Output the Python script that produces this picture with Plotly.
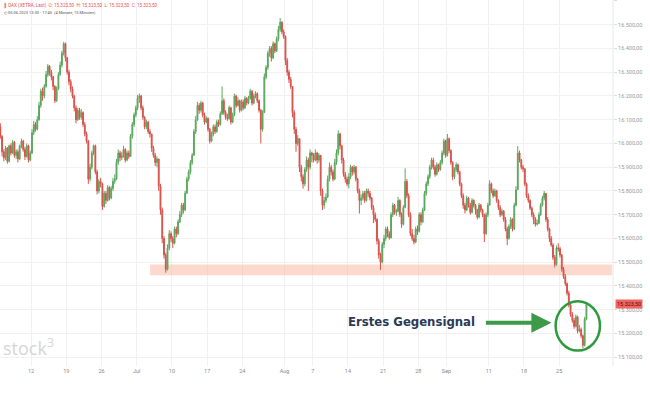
import plotly.graph_objects as go
import pandas as pd

# ---------------- data (DAX, Xetra, intraday, 05.06.2023 13:30 - 28.09.2023 17:45) ----------------
first_open = 16070

close_jun = [16030, 15965,
             15940, 15980, 15925, 15990, 15960, 16005, 15950, 15965, 15935, 15990, 16010, 15975,
             15945, 15990, 15930, 15960, 16045, 16080, 16060, 16100, 16160, 16220, 16200, 16240,
             16290, 16325, 16300, 16280, 16240, 16180, 16230, 16290, 16330, 16380, 16420, 16360,
             16300, 16260, 16230, 16200, 16150, 16100, 16140, 16110, 16130, 16080, 16040, 16010,
             15850, 15900, 15960, 15990, 15880, 15800, 15840, 15830, 15735, 15790, 15760, 15815,
             15770, 15810, 15840, 15850, 15920, 15960, 15940, 15950, 15975, 15930, 15960, 15945,
             16030, 16080, 16120, 16150]
high_jun = [16085, 16035,
            15975, 15990, 15985, 15995, 16000, 16015, 16010, 15975, 15975, 15995, 16020, 16015,
            15985, 16000, 15995, 15970, 16060, 16095, 16090, 16115, 16175, 16230, 16235, 16250,
            16305, 16335, 16330, 16310, 16285, 16245, 16240, 16300, 16345, 16390, 16428, 16425,
            16365, 16310, 16270, 16240, 16205, 16160, 16150, 16150, 16145, 16135, 16090, 16050,
            16015, 15915, 15970, 15995, 15995, 15890, 15850, 15855, 15835, 15800, 15800, 15825,
            15820, 15820, 15855, 15870, 15935, 15975, 15970, 15965, 15990, 15980, 15970, 15970,
            16040, 16090, 16130, 16160]
low_jun = [16020, 15945,
           15925, 15930, 15915, 15920, 15950, 15955, 15940, 15935, 15920, 15930, 15980, 15965,
           15930, 15940, 15920, 15925, 15955, 16035, 16050, 16055, 16095, 16150, 16180, 16190,
           16235, 16280, 16285, 16265, 16225, 16170, 16175, 16225, 16285, 16320, 16370, 16345,
           16290, 16245, 16215, 16190, 16135, 16085, 16095, 16100, 16100, 16070, 16030, 16000,
           15830, 15840, 15890, 15950, 15870, 15785, 15790, 15815, 15720, 15730, 15745, 15755,
           15760, 15765, 15800, 15830, 15845, 15910, 15925, 15930, 15940, 15920, 15925, 15935,
           15945, 16020, 16070, 16110]

close_jul = [16190, 16200, 16150, 16110, 16070, 16090, 16050, 16040, 15980, 15950, 15920, 15935,
             15820, 15720, 15600, 15530, 15470, 15560, 15620, 15600, 15580, 15640, 15620, 15670,
             15700, 15740, 15720, 15790, 15850, 15880, 15920, 15950, 16050, 16100, 16160, 16140,
             16170, 16120, 16090, 16105, 16060, 16010, 16040, 16070, 16050, 16090, 16080, 16125,
             16180, 16130, 16110, 16105, 16150, 16090, 16120, 16200, 16160, 16180, 16140, 16175,
             16150, 16190, 16170, 16190, 16220, 16170, 16200, 16210, 16180, 16140, 16060, 16130,
             16280, 16320, 16380, 16400, 16360, 16420, 16390, 16440, 16480, 16510, 16470, 16450]
high_jul = [16205, 16210, 16205, 16160, 16115, 16100, 16095, 16060, 16040, 15990, 15960, 15945,
            15935, 15830, 15730, 15610, 15540, 15575, 15635, 15630, 15610, 15650, 15650, 15680,
            15715, 15750, 15750, 15800, 15860, 15890, 15930, 15960, 16060, 16115, 16175, 16170,
            16180, 16175, 16130, 16115, 16110, 16065, 16050, 16080, 16080, 16100, 16100, 16135,
            16240, 16190, 16140, 16125, 16160, 16155, 16130, 16210, 16205, 16195, 16185, 16185,
            16185, 16200, 16195, 16200, 16230, 16225, 16210, 16220, 16215, 16185, 16145, 16140,
            16295, 16330, 16390, 16410, 16410, 16430, 16425, 16450, 16495, 16528, 16515, 16480]
low_jul = [16140, 16170, 16140, 16100, 16060, 16060, 16040, 16025, 15965, 15940, 15905, 15900,
           15800, 15700, 15580, 15515, 15456, 15465, 15550, 15585, 15560, 15575, 15605, 15615,
           15665, 15690, 15705, 15715, 15790, 15840, 15870, 15910, 15950, 16040, 16095, 16125,
           16130, 16110, 16080, 16085, 16050, 16000, 16005, 16030, 16040, 16045, 16070, 16075,
           16120, 16120, 16100, 16095, 16100, 16080, 16085, 16115, 16150, 16155, 16130, 16135,
           16140, 16145, 16160, 16165, 16185, 16160, 16165, 16190, 16170, 16130, 16000, 16050,
           16130, 16270, 16310, 16365, 16345, 16355, 16380, 16385, 16430, 16470, 16460, 16440]

close_aug = [16350, 16300, 16270, 16240, 16130, 16060, 16000, 16020, 15900, 15860, 15830, 15890,
             15930, 15900, 15960, 15950, 15930, 15960, 15930, 15950, 15800, 15740, 15760, 15775,
             15850, 15900, 15880, 15850, 15920, 15960, 16040, 15990, 15930, 15870, 15850, 15830,
             15860, 15900, 15880, 15900, 15850, 15800, 15760, 15770, 15790, 15760, 15800, 15790,
             15770, 15730, 15700, 15680, 15590, 15530, 15500, 15575, 15600, 15640, 15620, 15603,
             15700, 15740, 15710, 15715, 15760, 15700, 15660, 15730, 15840, 15780, 15700, 15620,
             15600, 15585, 15640, 15630, 15700, 15670, 15720, 15790, 15830, 15860, 15900, 15930,
             15900, 15870, 15910, 15890, 15920, 15960, 16010, 15950]
high_aug = [16455, 16360, 16310, 16280, 16240, 16140, 16070, 16035, 16020, 15910, 15870, 15900,
            15945, 15940, 15975, 15965, 15960, 15975, 15965, 15960, 15950, 15810, 15775, 15790,
            15865, 15920, 15910, 15890, 15935, 15975, 16055, 16045, 15995, 15940, 15880, 15860,
            15875, 15910, 15905, 15910, 15905, 15855, 15810, 15785, 15800, 15800, 15810, 15810,
            15800, 15775, 15740, 15710, 15685, 15600, 15540, 15585, 15615, 15650, 15650, 15630,
            15710, 15750, 15745, 15725, 15775, 15765, 15710, 15740, 15895, 15850, 15790, 15710,
            15640, 15615, 15650, 15655, 15710, 15710, 15730, 15800, 15840, 15870, 15910, 15940,
            15940, 15910, 15920, 15915, 15930, 15970, 16020, 16015]
low_aug = [16330, 16285, 16255, 16230, 16110, 16040, 15965, 15990, 15880, 15840, 15810, 15820,
           15880, 15800, 15890, 15920, 15920, 15925, 15915, 15920, 15780, 15720, 15725, 15750,
           15770, 15840, 15865, 15840, 15845, 15910, 15950, 15975, 15915, 15860, 15835, 15820,
           15810, 15850, 15865, 15870, 15840, 15790, 15705, 15740, 15760, 15750, 15755, 15775,
           15760, 15720, 15665, 15670, 15575, 15515, 15468, 15495, 15560, 15590, 15605, 15595,
           15600, 15690, 15700, 15695, 15710, 15690, 15645, 15655, 15730, 15770, 15690, 15610,
           15590, 15575, 15580, 15615, 15625, 15655, 15665, 15715, 15780, 15820, 15850, 15890,
           15890, 15860, 15865, 15880, 15885, 15910, 15950, 15940]

close_sep = [16020, 15970, 15920, 15860, 15890, 15910, 15880, 15830, 15780, 15740, 15720, 15770,
             15740, 15710, 15760, 15740, 15720, 15690, 15740, 15720, 15700, 15620, 15700, 15740,
             15830, 15800, 15780, 15800, 15760, 15730, 15700, 15715, 15680, 15640, 15600, 15650,
             15680, 15640, 15740, 15805, 15960, 15930, 15900, 15893, 15830, 15780, 15760, 15727,
             15700, 15680, 15660, 15664, 15700, 15740, 15770, 15790, 15680, 15640, 15600, 15572,
             15520, 15490, 15560, 15557, 15530, 15470, 15440, 15410, 15370, 15320, 15280, 15255,
             15230, 15270, 15210, 15217, 15190, 15150, 15260, 15323.5]
high_sep = [16040, 16025, 15975, 15925, 15900, 15920, 15915, 15885, 15835, 15790, 15750, 15780,
            15775, 15750, 15770, 15765, 15745, 15725, 15750, 15745, 15725, 15705, 15710, 15750,
            15845, 15835, 15810, 15810, 15805, 15765, 15740, 15725, 15720, 15690, 15650, 15660,
            15690, 15685, 15750, 15820, 15989, 15970, 15935, 15910, 15895, 15835, 15790, 15765,
            15735, 15710, 15690, 15680, 15710, 15750, 15780, 15800, 15790, 15690, 15645, 15610,
            15580, 15530, 15570, 15580, 15565, 15535, 15480, 15450, 15415, 15380, 15330, 15290,
            15265, 15280, 15275, 15235, 15225, 15195, 15270, 15330]
low_sep = [15945, 15960, 15910, 15845, 15850, 15880, 15870, 15820, 15770, 15725, 15705, 15715,
           15730, 15700, 15705, 15730, 15700, 15680, 15685, 15710, 15690, 15585, 15615, 15690,
           15740, 15790, 15770, 15775, 15750, 15720, 15690, 15695, 15670, 15630, 15572, 15595,
           15640, 15630, 15635, 15735, 15805, 15920, 15890, 15880, 15820, 15770, 15750, 15720,
           15690, 15660, 15650, 15655, 15660, 15695, 15735, 15760, 15670, 15630, 15585, 15565,
           15510, 15478, 15485, 15545, 15520, 15460, 15430, 15400, 15360, 15310, 15270, 15245,
           15220, 15225, 15200, 15205, 15180, 15138, 15145, 15255]

support_zone = [15445, 15490]
last_price = 15323.5

price_ticks = [15100, 15200, 15300, 15400, 15500, 15600, 15700, 15800, 15900,
               16000, 16100, 16200, 16300, 16400, 16500, 16600]
price_tick_labels = ["15.100,00", "15.200,00", "15.300,00", "15.400,00", "15.500,00",
                     "15.600,00", "15.700,00", "15.800,00", "15.900,00", "16.000,00",
                     "16.100,00", "16.200,00", "16.300,00", "16.400,00", "16.500,00",
                     "16.600,00"]
date_ticks = ["2023-06-12", "2023-06-19", "2023-06-26", "2023-07-03", "2023-07-10",
              "2023-07-17", "2023-07-24", "2023-08-01", "2023-08-07", "2023-08-14",
              "2023-08-21", "2023-08-28", "2023-09-01", "2023-09-11", "2023-09-18",
              "2023-09-25"]
date_tick_labels = ["12", "19", "26", "Jul", "10", "17", "24", "Aug", "7", "14", "21",
                    "28", "Sep", "11", "18", "25"]

# ---------------- build ----------------
closes = close_jun + close_jul + close_aug + close_sep
highs = high_jun + high_jul + high_aug + high_sep
lows = low_jun + low_jul + low_aug + low_sep
opens = [first_open] + closes[:-1]

days = pd.bdate_range("2023-06-05", "2023-09-28")
x = []
for i, d in enumerate(days):
    offs = [0.625, 0.875] if i == 0 else [0.125, 0.375, 0.625, 0.875]
    for s in offs:
        x.append(i + s)
n = min(len(x), len(closes), len(highs), len(lows))
x, opens, highs, lows, closes = x[:n], opens[:n], highs[:n], lows[:n], closes[:n]

tick_pos = [days.get_loc(pd.Timestamp(t)) for t in date_ticks]

UP = "#5aa75e"
DN = "#d9514b"

fig = go.Figure()
fig.add_trace(go.Candlestick(
    x=x, open=opens, high=highs, low=lows, close=closes,
    increasing=dict(line=dict(color=UP, width=1), fillcolor=UP),
    decreasing=dict(line=dict(color=DN, width=1), fillcolor=DN),
    whiskerwidth=0, hoverinfo="skip", showlegend=False,
))

X0, X1 = 0.58, 87.65
Y0, Y1 = 15063, 16604

shapes = [
    dict(type="rect", xref="x", yref="y", x0=21.9, x1=87.5,
         y0=support_zone[0], y1=support_zone[1],
         fillcolor="rgba(248,180,155,0.5)", line=dict(width=0), layer="between"),
    dict(type="rect", xref="paper", yref="paper", x0=0, x1=68 / 613,
         y0=1 - 348 / 366, y1=1 - 318 / 366,
         fillcolor="white", line=dict(width=0), layer="between"),
    dict(type="circle", xref="x", yref="y", x0=79.5, x1=85.8, y0=15128, y1=15336,
         line=dict(color="#2f9a3f", width=2.5), layer="above"),
    dict(type="line", xref="paper", yref="paper", x0=1, x1=1, y0=0, y1=1,
         line=dict(color="#e8e8e8", width=1)),
]

annotations = [
    dict(text="Erstes Gegensignal", xref="x", yref="y", x=68.3, y=15252,
         xanchor="right", yanchor="middle", showarrow=False,
         font=dict(family="Liberation Sans Narrow, DejaVu Sans Condensed, sans-serif",
                   size=13, color="#2b3a55", weight="bold")),
    dict(text="", xref="x", yref="y", x=78.9, y=15245, axref="pixel", ayref="pixel",
         ax=-67, ay=0, showarrow=True, arrowhead=2, arrowsize=1, arrowwidth=4,
         arrowcolor="#3c9a48", standoff=0),
    dict(text="15.323,50", xref="paper", yref="y", x=1.003, y=last_price,
         xanchor="left", yanchor="middle", showarrow=False, bgcolor="#f06560",
         borderpad=1, font=dict(family="Roboto", size=5.5, color="#5a0c0c")),
    dict(text="<b>∥</b> DAX (XETRA, Last)  O: 15.323,50  H: 15.323,50  L: 15.323,50  C: 15.323,50",
         xref="paper", yref="paper", x=2 / 613, y=1 - 5 / 366, xanchor="left",
         yanchor="middle", showarrow=False,
         font=dict(family="Roboto", size=4.6, color="#e8545a")),
    dict(text="◴ 05.06.2023 13:30 - 17:45  (4 Monate, 15 Minuten)",
         xref="paper", yref="paper", x=2 / 613, y=1 - 12 / 366, xanchor="left",
         yanchor="middle", showarrow=False,
         font=dict(family="Roboto", size=4.0, color="#555555")),
    dict(text="stock<sup>3</sup>", xref="paper", yref="paper", x=1 / 613,
         y=1 - 347 / 366, xanchor="left", yanchor="middle", showarrow=False,
         font=dict(family="Open Sans", size=18, color="#d6d6d6")),
]

fig.update_layout(
    width=650, height=393,
    margin=dict(l=0, r=37, t=0, b=27, autoexpand=False),
    paper_bgcolor="white", plot_bgcolor="white",
    shapes=shapes, annotations=annotations,
    xaxis=dict(range=[X0, X1], tickvals=tick_pos, ticktext=date_tick_labels,
               showgrid=True, gridcolor="#f1f1f1", gridwidth=1, zeroline=False,
               showline=False, ticks="", rangeslider=dict(visible=False),
               automargin=False,
               tickfont=dict(family="Roboto", size=5.5, color="#8a8a8a")),
    yaxis=dict(range=[Y0, Y1], side="right", tickvals=price_ticks,
               ticktext=price_tick_labels, showgrid=True, gridcolor="#f1f1f1",
               gridwidth=1, zeroline=False, showline=False, ticks="outside",
               ticklen=3, tickcolor="#dddddd", automargin=False,
               tickfont=dict(family="Roboto", size=5.5, color="#9a9a9a")),
)

fig.write_html("out.html", config={"displayModeBar": False},
               post_script="document.body.style.margin='0';document.body.style.padding='0';")
